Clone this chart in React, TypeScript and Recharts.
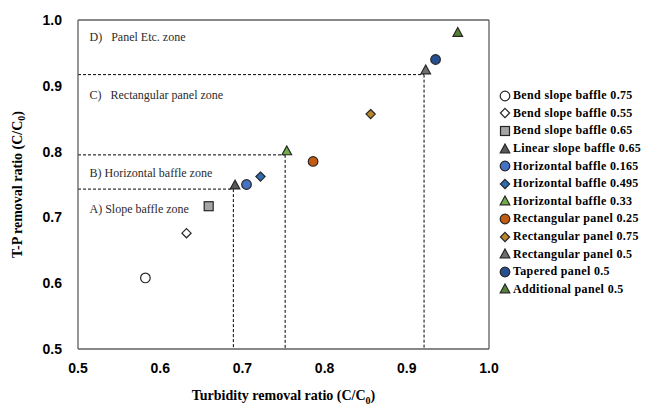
import {
  ScatterChart,
  Scatter,
  XAxis,
  YAxis,
  ReferenceLine,
  ReferenceDot,
} from "recharts";

// Series names, in legend order
const names = [
  "Bend slope baffle 0.75",
  "Bend slope baffle 0.55",
  "Bend slope baffle 0.65",
  "Linear slope baffle 0.65",
  "Horizontal baffle 0.165",
  "Horizontal baffle 0.495",
  "Horizontal baffle 0.33",
  "Rectangular panel 0.25",
  "Rectangular panel 0.75",
  "Rectangular panel 0.5",
  "Tapered panel 0.5",
  "Additional panel 0.5",
];

// Turbidity removal ratio (x) and T-P removal ratio (y)
const turbidity = [0.582, 0.632, 0.659, 0.691, 0.705, 0.722, 0.754, 0.786, 0.856, 0.923, 0.935, 0.962];
const tpRemoval = [0.608, 0.676, 0.717, 0.749, 0.75, 0.762, 0.801, 0.785, 0.857, 0.924, 0.94, 0.981];

// Zone boundaries (dashed corner lines)
const zoneX = [0.689, 0.752, 0.921];
const zoneY = [0.743, 0.795, 0.917];

const zoneLabels = [
  "D)\u00a0\u00a0\u00a0Panel Etc. zone",
  "C)\u00a0\u00a0\u00a0Rectangular panel zone",
  "B) Horizontal baffle zone",
  "A) Slope baffle zone",
];
const zoneLabelY = [0.974, 0.887, 0.768, 0.713];

const ticks = [0.5, 0.6, 0.7, 0.8, 0.9, 1.0];

type Kind = "circle" | "diamond" | "square" | "triangle";
const kinds: Kind[] = [
  "circle", "diamond", "square", "triangle",
  "circle", "diamond", "triangle",
  "circle", "diamond", "triangle",
  "circle", "triangle",
];
const fills = [
  "#ffffff", "#ffffff", "#a5a5a5", "#595959",
  "#4472c4", "#2e6db4", "#70ad47",
  "#c55a11", "#b8862b", "#6e6e6e",
  "#264f8f", "#548235",
];

const SERIF = "'Liberation Serif', 'Times New Roman', serif";
const SANS = "'Liberation Sans', Arial, sans-serif";

function Marker({ cx, cy, kind, fill }: { cx: number; cy: number; kind: Kind; fill: string }) {
  const stroke = "#262626";
  if (kind === "circle") return <circle cx={cx} cy={cy} r={4.8} fill={fill} stroke={stroke} strokeWidth={1.2} />;
  if (kind === "square")
    return <rect x={cx - 4.5} y={cy - 4.5} width={9} height={9} fill={fill} stroke={stroke} strokeWidth={1.2} />;
  if (kind === "diamond")
    return (
      <polygon
        points={`${cx},${cy - 4.6} ${cx + 4.6},${cy} ${cx},${cy + 4.6} ${cx - 4.6},${cy}`}
        fill={fill}
        stroke={stroke}
        strokeWidth={1.2}
      />
    );
  return (
    <polygon
      points={`${cx},${cy - 5} ${cx + 4.8},${cy + 3.8} ${cx - 4.8},${cy + 3.8}`}
      fill={fill}
      stroke={stroke}
      strokeWidth={1.2}
    />
  );
}

const YLabel = ({ viewBox }: any) => {
  const cx = 17;
  const cy = viewBox.y + viewBox.height / 2;
  return (
    <text
      x={cx}
      y={cy}
      transform={`rotate(-90, ${cx}, ${cy})`}
      textAnchor="middle"
      dominantBaseline="central"
      fontFamily={SERIF}
      fontWeight="bold"
      fontSize={14}
      fill="#000"
    >
      T-P removal ratio (C/C
      <tspan fontSize={10} dy={4}>0</tspan>
      <tspan dy={-4}>)</tspan>
    </text>
  );
};

const XLabel = ({ viewBox }: any) => {
  const cx = viewBox.x + viewBox.width / 2;
  return (
    <text
      x={cx}
      y={400}
      textAnchor="middle"
      fontFamily={SERIF}
      fontWeight="bold"
      fontSize={14}
      fill="#000"
    >
      Turbidity removal ratio (C/C
      <tspan fontSize={10} dy={4}>0</tspan>
      <tspan dy={-4}>)</tspan>
    </text>
  );
};

export default function App() {
  const frame = "#5f5f5f";
  return (
    <div style={{ position: "absolute", left: 0, top: 0, width: 656, height: 407, background: "#fff" }}>
      <ScatterChart width={656} height={407} margin={{ top: 20, right: 167, bottom: 28, left: 30 }}>
        <XAxis
          type="number"
          dataKey="x"
          domain={[0.5, 1.0]}
          ticks={ticks}
          tickFormatter={(v) => v.toFixed(1)}
          tickLine={false}
          tickSize={0}
          tickMargin={14}
          height={30}
          axisLine={{ stroke: frame, strokeWidth: 1.3 }}
          tick={{ fontFamily: SANS, fontWeight: "bold", fontSize: 14, fill: "#000" }}
          label={<XLabel />}
        />
        <YAxis
          type="number"
          dataKey="y"
          domain={[0.5, 1.0]}
          ticks={ticks}
          tickFormatter={(v) => v.toFixed(1)}
          tickLine={false}
          tickSize={0}
          tickMargin={16}
          width={48}
          axisLine={{ stroke: frame, strokeWidth: 1.3 }}
          tick={{ fontFamily: SANS, fontWeight: "bold", fontSize: 14, fill: "#000" }}
          label={<YLabel />}
        />
        <ReferenceLine y={1.0} stroke={frame} strokeWidth={1.3} />
        <ReferenceLine x={1.0} stroke={frame} strokeWidth={1.3} />
        {zoneX.map((zx, i) => (
          <ReferenceLine
            key={`h${i}`}
            segment={[{ x: 0.5, y: zoneY[i] }, { x: zx, y: zoneY[i] }]}
            stroke="#000"
            strokeWidth={1}
            strokeDasharray="3 2"
          />
        ))}
        {zoneX.map((zx, i) => (
          <ReferenceLine
            key={`v${i}`}
            segment={[{ x: zx, y: zoneY[i] }, { x: zx, y: 0.5 }]}
            stroke="#000"
            strokeWidth={1}
            strokeDasharray="3 2"
          />
        ))}
        {zoneLabels.map((t, i) => (
          <ReferenceDot
            key={t}
            x={0.514}
            y={zoneLabelY[i]}
            r={0}
            fill="none"
            stroke="none"
            label={{
              value: t,
              position: "right",
              offset: 0,
              fontFamily: SERIF,
              fontSize: 12,
              fill: "#2b2b2b",
            }}
          />
        ))}
        {names.map((n, i) => (
          <Scatter
            key={n}
            name={n}
            data={[{ x: turbidity[i], y: tpRemoval[i] }]}
            isAnimationActive={false}
            shape={(p: any) => <Marker cx={p.cx} cy={p.cy} kind={kinds[i]} fill={fills[i]} />}
          />
        ))}
      </ScatterChart>
      <div style={{ position: "absolute", left: 498, top: 87 }}>
        {names.map((n, i) => (
          <div
            key={n}
            style={{
              display: "flex",
              alignItems: "center",
              height: 17.6,
              fontFamily: SERIF,
              fontWeight: "bold",
              fontSize: 12,
              letterSpacing: 0.35,
              color: "#000",
              whiteSpace: "nowrap",
            }}
          >
            <svg width={14} height={12} style={{ marginRight: 1 }}>
              <Marker cx={7} cy={6} kind={kinds[i]} fill={fills[i]} />
            </svg>
            {n}
          </div>
        ))}
      </div>
    </div>
  );
}
